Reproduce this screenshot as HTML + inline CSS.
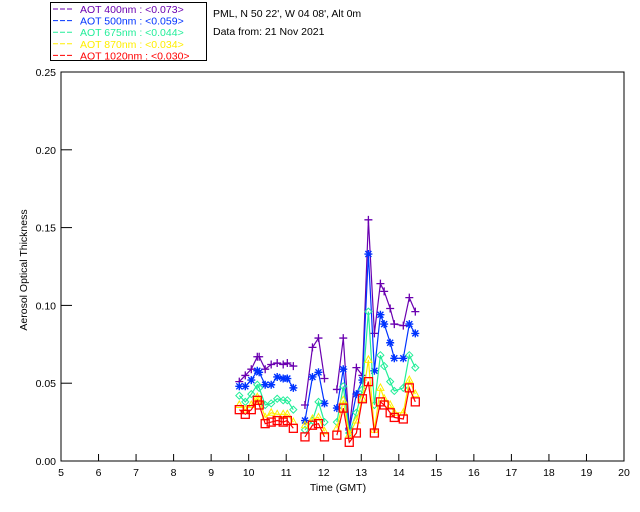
<!DOCTYPE html>
<html><head><meta charset="utf-8"><style>
html,body{margin:0;padding:0;background:#fff;}
svg{display:block;font-family:"Liberation Sans",sans-serif;}
</style></head><body>
<svg id="chart" width="640" height="512" viewBox="0 0 640 512" xmlns="http://www.w3.org/2000/svg">
<rect width="640" height="512" fill="#fff"/>
<g id="legend">
<rect x="50.5" y="2.5" width="156" height="58" fill="#fff" stroke="#000" stroke-width="1"/>
</g>
<text x="213" y="17" font-size="10.5">PML, N 50 22', W 04 08', Alt 0m</text>
<text x="213" y="35" font-size="10.5">Data from: 21 Nov 2021</text>
<g id="axes"></g>
<g id="series"></g>
<text x="0" y="0" font-size="10.5" transform="translate(27,270) rotate(-90)" text-anchor="middle">Aerosol Optical Thickness</text>
<text x="338" y="491" font-size="10.5" text-anchor="middle">Time (GMT)</text>
</svg>
<script>
const times = [9.75,9.91,10.07,10.23,10.28,10.44,10.60,10.76,10.92,11.03,11.19,
 11.50,11.70,11.86,12.02,12.35,12.52,12.68,12.87,13.03,13.19,13.35,13.51,13.61,13.77,13.88,14.12,14.28,14.44];
const aot400 = [0.051,0.055,0.059,0.067,0.067,0.059,0.062,0.063,0.062,0.063,0.061,
 0.036,0.073,0.079,0.053,0.046,0.079,0.021,0.060,0.055,0.155,0.082,0.114,0.109,0.098,0.088,0.087,0.105,0.096];
const aot500 = [0.048,0.048,0.052,0.058,0.057,0.049,0.049,0.054,0.053,0.053,0.047,
 0.026,0.054,0.057,0.037,0.034,0.059,0.020,0.043,0.052,0.133,0.058,0.094,0.088,0.076,0.066,0.066,0.088,0.082];
const aot675 = [0.042,0.038,0.043,0.049,0.047,0.036,0.037,0.040,0.039,0.039,0.033,
 0.020,0.026,0.038,0.025,0.025,0.048,0.018,0.031,0.046,0.096,0.036,0.068,0.061,0.051,0.045,0.047,0.068,0.060];
const aot870 = [0.036,0.033,0.036,0.041,0.039,0.028,0.031,0.030,0.030,0.030,0.025,
 0.023,0.027,0.028,0.019,0.021,0.039,0.017,0.026,0.040,0.065,0.020,0.047,0.040,0.036,0.031,0.031,0.052,0.043];
const aot1020 = [0.033,0.030,0.033,0.039,0.036,0.024,0.025,0.026,0.025,0.026,0.021,
 0.0155,0.023,0.024,0.0155,0.0166,0.034,0.012,0.018,0.040,0.051,0.018,0.038,0.036,0.031,0.028,0.027,0.047,0.038];
const xTicks = [5,6,7,8,9,10,11,12,13,14,15,16,17,18,19,20];
const yTicks = [0,0.05,0.10,0.15,0.20,0.25];
const yTickLabels = ["0.00","0.05","0.10","0.15","0.20","0.25"];
const legendLabels = ["AOT  400nm : <0.073>","AOT  500nm : <0.059>","AOT  675nm : <0.044>","AOT  870nm : <0.034>","AOT 1020nm : <0.030>"];

const NS="http://www.w3.org/2000/svg";
const X0=61,X1=624,Y0=461,Y1=72;
const xs=t=>X0+(t-5)/15*(X1-X0);
const ys=v=>Y0-v/0.25*(Y0-Y1);
function mk(tag,attrs,parent){const e=document.createElementNS(NS,tag);for(const k in attrs)e.setAttribute(k,attrs[k]);parent.appendChild(e);return e;}
const axes=document.getElementById('axes');
let frame=mk('rect',{x:X0,y:Y1,width:X1-X0,height:Y0-Y1,fill:'none',stroke:'#000','stroke-width':1},axes);


xTicks.forEach(t=>{
 const tk=mk('line',{x1:xs(t),x2:xs(t),y1:Y0,y2:Y0-7,stroke:'#000'},axes);
 
 
 const lb=mk('text',{x:xs(t),y:Y0+15,'font-size':10.5,'text-anchor':'middle'},axes);
 lb.textContent=t;
 
 
});
yTicks.forEach((v,i)=>{
 const tk=mk('line',{x1:X0,x2:X0+11,y1:ys(v),y2:ys(v),stroke:'#000'},axes);
 
 
 const lb=mk('text',{x:X0-5,y:ys(v)+4,'font-size':10.5,'text-anchor':'end'},axes);
 lb.textContent=yTickLabels[i];
 
 
});
const colors=['#6a00b0','#0033ff','#22ee99','#ffee00','#ff0000'];
const seriesData=[aot400,aot500,aot675,aot870,aot1020];
const markers=['plus','star','diamond','triangle','square'];
const sg=document.getElementById('series');
seriesData.forEach((vals,si)=>{
 const c=colors[si];
 const g=mk('g',{},sg);
 
 
 let d='';
 for(let i=0;i<times.length;i++){
  const brk=i===0||times[i]-times[i-1]>0.25;
  d+=(brk?'M':'L')+xs(times[i]).toFixed(1)+' '+ys(vals[i]).toFixed(1)+' ';
 }
 const p=mk('path',{d:d,fill:'none',stroke:c,'stroke-width':1.2},g);
 
 
 for(let i=0;i<times.length;i++){
  const x=xs(times[i]),y=ys(vals[i]);let m;
  const mt=markers[si];
  if(mt==='plus')m=mk('path',{d:`M${x-4} ${y}H${x+4}M${x} ${y-4}V${y+4}`,stroke:c,'stroke-width':1.3,fill:'none'},g);
  else if(mt==='star')m=mk('path',{d:`M${x-4} ${y}H${x+4}M${x} ${y-4}V${y+4}M${x-3} ${y-3}L${x+3} ${y+3}M${x-3} ${y+3}L${x+3} ${y-3}`,stroke:c,'stroke-width':1.4,fill:'none'},g);
  else if(mt==='diamond')m=mk('path',{d:`M${x} ${y-3.5}L${x+3.5} ${y}L${x} ${y+3.5}L${x-3.5} ${y}Z`,stroke:c,'stroke-width':1,fill:'none'},g);
  else if(mt==='triangle')m=mk('path',{d:`M${x} ${y-4}L${x+3.5} ${y+2.5}L${x-3.5} ${y+2.5}Z`,stroke:c,'stroke-width':1,fill:'none'},g);
  else m=mk('rect',{x:x-4,y:y-4,width:8,height:8,stroke:c,'stroke-width':1.3,fill:'none'},g);
  
  
 }
});
const lg=document.getElementById('legend');
legendLabels.forEach((s,i)=>{
 const y=13+i*11.6;
 const ln=mk('line',{x1:53,x2:74,y1:y-4,y2:y-4,stroke:colors[i],'stroke-dasharray':'5,2'},lg);
 
 
 const t=mk('text',{x:80,y:y,'font-size':10.5,fill:colors[i],'xml:space':'preserve'},lg);
 t.textContent=s;
 
 
});
</script>
</body></html>
